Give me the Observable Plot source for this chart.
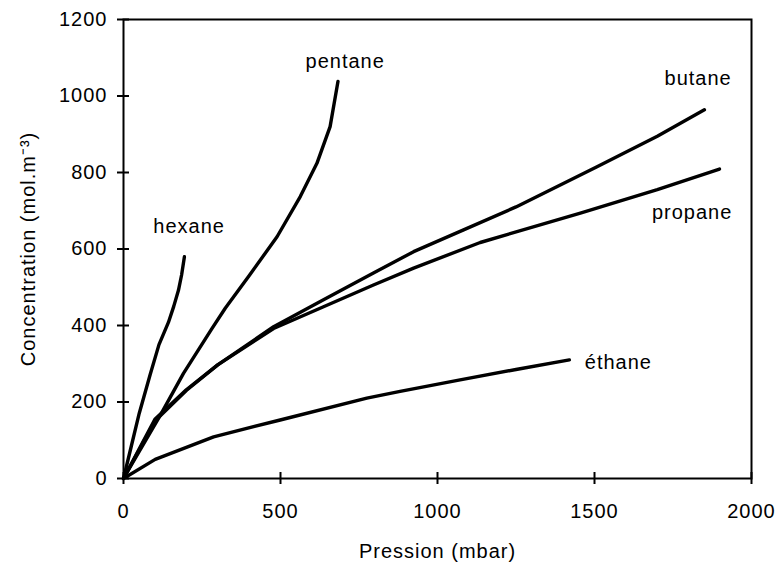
<!DOCTYPE html>
<html><head><meta charset="utf-8">
<script src="https://cdn.jsdelivr.net/npm/d3@7"></script>
<script src="https://cdn.jsdelivr.net/npm/@observablehq/plot@0.6"></script>
<style>body{margin:0;background:#fff}</style>
</head><body><div id="chart"></div>
<script>
// Pression (mbar) / Concentration (mol.m-3) for each gas
const hexaneP  = [0, 25, 50, 85, 113, 143, 160, 175, 185, 194];
const hexaneC  = [0, 85, 170, 272, 350, 408, 450, 492, 532, 580];
const pentaneP = [0, 117, 191, 280, 324, 400, 489, 563, 616, 658, 683];
const pentaneC = [0, 165, 275, 390, 445, 530, 632, 737, 824, 920, 1038];
const butaneP  = [0, 100, 200, 300, 478, 637, 796, 924, 1083, 1250, 1508, 1700, 1850];
const butaneC  = [0, 150, 230, 297, 397, 467, 537, 593, 650, 710, 815, 895, 964];
const propaneP = [0, 100, 200, 300, 478, 637, 796, 924, 1136, 1455, 1700, 1898];
const propaneC = [0, 155, 232, 297, 392, 449, 506, 550, 617, 694, 755, 809];
const ethaneP  = [0, 101, 287, 499, 775, 881, 1072, 1250, 1420];
const ethaneC  = [0, 50, 109, 153, 210, 228, 258, 285, 310];

const gasNames = ["hexane", "pentane", "butane", "propane", "éthane"];
const labelP   = [209, 706, 1830, 1811, 1576];
const labelC   = [658, 1089, 1045, 694, 302];

const xTicks = [0, 500, 1000, 1500, 2000];
const yTicks = [0, 200, 400, 600, 800, 1000, 1200];

const series = [
  ["hexane", hexaneP, hexaneC],
  ["pentane", pentaneP, pentaneC],
  ["butane", butaneP, butaneC],
  ["propane", propaneP, propaneC],
  ["éthane", ethaneP, ethaneC]
];
const rows = series.flatMap(([g, P, C]) => P.map((p, i) => ({gas: g, p, c: C[i]})));
const labels = gasNames.map((g, i) => ({gas: g, p: labelP[i], c: labelC[i]}));

const font = "'Liberation Sans', Arial, sans-serif";
const chart = Plot.plot({
  width: 779,
  height: 566,
  marginLeft: 123,
  marginRight: 28,
  marginTop: 19,
  marginBottom: 88,
  style: {fontFamily: font, fontSize: "20px", letterSpacing: "1px", background: "#fff", color: "#000"},
  x: {domain: [0, 2000]},
  y: {domain: [0, 1200]},
  marks: [
    Plot.frame({stroke: "#000", strokeWidth: 2}),
    Plot.axisX({ticks: xTicks, tickSize: 12, dy: -6, tickPadding: 19, strokeWidth: 2, fontSize: 20,
      tickFormat: d => String(d), label: null}),
    Plot.axisY({ticks: yTicks, tickSize: 12, dx: 6, tickPadding: 10, strokeWidth: 2, fontSize: 20,
      tickFormat: d => String(d), label: null}),
    Plot.line(rows, {x: "p", y: "c", z: "gas", stroke: "#000", strokeWidth: 3.4, strokeLinejoin: "round", strokeLinecap: "round"}),
    Plot.text(labels, {x: "p", y: "c", text: "gas", fontSize: 20, fill: "#000"}),
    Plot.text(["Pression (mbar)"], {frameAnchor: "bottom", dy: 79, fontSize: 20, fill: "#000"}),
    Plot.text(["Concentration (mol.m⁻³)"], {frameAnchor: "left", textAnchor: "middle", dx: -95, rotate: -90, fontSize: 20, fill: "#000"})
  ]
});
document.getElementById("chart").appendChild(chart);
</script>
</body></html>
